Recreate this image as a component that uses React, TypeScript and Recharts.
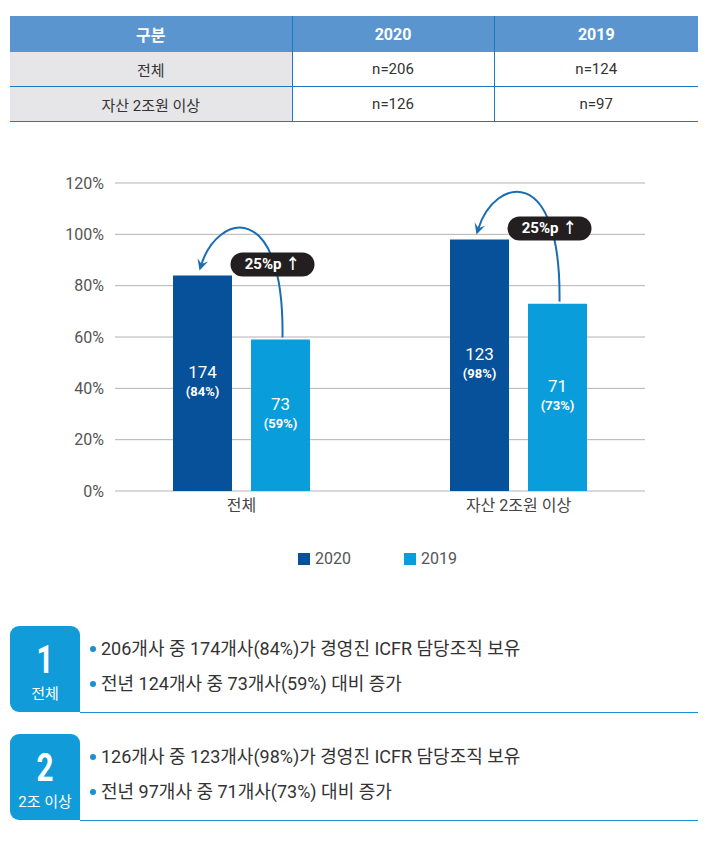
import React from 'react'
import { BarChart, Bar, XAxis, YAxis, CartesianGrid, Legend, LabelList } from 'recharts'

// chart values
const categories = ['전체', '자산 2조원 이상']
const pct2020 = [84, 98]
const pct2019 = [59, 73]
const count2020 = [174, 123]
const count2019 = [73, 71]
const changeLabels = ['25%p ↑', '25%p ↑']
const yTicks = [0, 20, 40, 60, 80, 100, 120]
const seriesNames = ['2020', '2019']

// table above the chart
const tableHead = ['구분', '2020', '2019']
const tableRows = [
  ['전체', 'n=206', 'n=124'],
  ['자산 2조원 이상', 'n=126', 'n=97'],
]

// notes below the chart
const notes = [
  { num: '1', label: '전체', lines: ['206개사 중 174개사(84%)가 경영진 ICFR 담당조직 보유', '전년 124개사 중 73개사(59%) 대비 증가'] },
  { num: '2', label: '2조 이상', lines: ['126개사 중 123개사(98%)가 경영진 ICFR 담당조직 보유', '전년 97개사 중 71개사(73%) 대비 증가'] },
]

const C2020 = '#07509a'
const C2019 = '#0a9ddc'
const FONT = "Roboto, 'Noto Sans CJK KR', sans-serif"
const BAR_SIZE = 59
const BAR_GAP = 19

const data = categories.map((name, i) => ({ name, y2020: pct2020[i], y2019: pct2019[i] }))

const BarValue = (props: any) => {
  const { x, y, width, height, index, counts, pcts } = props
  const cx = x + width / 2
  const cy = y + height / 2
  return (
    <g>
      <text x={cx} y={cy - 5} textAnchor="middle" fill="#fff" fontSize={17} fontFamily={FONT}>{counts[index]}</text>
      <text x={cx} y={cy + 13} textAnchor="middle" fill="#fff" fontSize={13} fontWeight={700} fontFamily={FONT}>({pcts[index]}%)</text>
    </g>
  )
}

const ChangeArrow = (props: any) => {
  const { x, y, width, height, index } = props
  const base = y + height
  const pxPer = height / pct2019[index]
  const top2020 = base - pct2020[index] * pxPer
  const cx2019 = x + width / 2
  const cx2020 = cx2019 - width - BAR_GAP
  const sx = cx2019 + 2
  const sy = y - 2
  const ex = cx2020 - 3
  const ey = top2020 - 5
  const c1x = sx + 2, c1y = top2020 - 78
  const c2x = ex + 18, c2y = top2020 - 62
  const dx = ex - c2x, dy = ey - c2y
  const len = Math.sqrt(dx * dx + dy * dy)
  const ux = dx / len, uy = dy / len
  const px = -uy, py = ux
  const L = 11, W = 5.5
  const head = `M${ex},${ey} L${ex - ux * L + px * W},${ey - uy * L + py * W} L${ex - ux * L * 0.6},${ey - uy * L * 0.6} L${ex - ux * L - px * W},${ey - uy * L - py * W} Z`
  const bx = cx2019 - 8
  const by = top2020 - 11
  return (
    <g>
      <path d={`M${sx},${sy} C${c1x},${c1y} ${c2x},${c2y} ${ex - ux * 6},${ey - uy * 6}`} fill="none" stroke="#1b6db3" strokeWidth={2} />
      <path d={head} fill="#1b6db3" />
      <rect x={bx - 42} y={by - 12} width={84} height={24} rx={12} fill="#231f20" />
      <text x={bx} y={by + 5} textAnchor="middle" fill="#fff" fontSize={15} fontWeight={700} fontFamily={FONT}>{changeLabels[index]}</text>
    </g>
  )
}

const LegendContent = () => (
  <div style={{ position: 'relative', height: 40, fontFamily: FONT }}>
    {[C2020, C2019].map((c, i) => (
      <div key={i} style={{ position: 'absolute', left: i === 0 ? 298 : 404, top: 11, display: 'flex', alignItems: 'center' }}>
        <span style={{ width: 12, height: 12, background: c, display: 'inline-block', marginRight: 5 }} />
        <span style={{ fontSize: 16, color: '#555', lineHeight: '16px' }}>{seriesNames[i]}</span>
      </div>
    ))}
  </div>
)

export default function App() {
  const cell: React.CSSProperties = { height: 34, textAlign: 'center', fontSize: 15, color: '#333', padding: 0 }
  return (
    <div style={{ position: 'relative', width: 719, height: 847, fontFamily: FONT, background: '#fff' }}>
      <style>{`body{margin:0}`}</style>

      <table style={{ position: 'absolute', left: 10, top: 16, width: 688, borderCollapse: 'collapse', tableLayout: 'fixed' }}>
        <colgroup>
          <col style={{ width: 282 }} />
          <col style={{ width: 202 }} />
          <col style={{ width: 204 }} />
        </colgroup>
        <thead>
          <tr style={{ background: '#5b95cf' }}>
            {tableHead.map((h, i) => (
              <th key={i} style={{ ...cell, height: 36, color: '#fff', fontSize: 16, fontWeight: 700, borderLeft: i ? '1px solid #1f78c2' : 'none' }}>{h}</th>
            ))}
          </tr>
        </thead>
        <tbody>
          {tableRows.map((r, ri) => (
            <tr key={ri} style={{ borderBottom: '1px solid #1f78c2' }}>
              {r.map((v, i) => (
                <td key={i} style={{ ...cell, background: i === 0 ? '#e6e6e8' : '#fff', borderLeft: i ? '1px solid #1f78c2' : 'none' }}>{v}</td>
              ))}
            </tr>
          ))}
        </tbody>
      </table>

      <div style={{ position: 'absolute', left: 0, top: 170 }}>
        <BarChart width={719} height={410} data={data} margin={{ top: 13, right: 74, left: 0, bottom: 0 }} barSize={BAR_SIZE} barGap={BAR_GAP}>
          <CartesianGrid vertical={false} stroke="#b3b3b3" />
          <XAxis dataKey="name" axisLine={false} tickLine={false} height={49} padding={{ left: -12, right: -12 }}
            tick={{ fill: '#444', fontSize: 16, fontFamily: FONT }} tickMargin={3} />
          <YAxis domain={[0, 120]} ticks={yTicks} width={115} axisLine={false} tickLine={false} tickMargin={5}
            tickFormatter={(v: number) => `${v}%`} tick={{ fill: '#555', fontSize: 16, fontFamily: FONT }} />
          <Legend verticalAlign="bottom" height={40} content={<LegendContent />} />
          <Bar dataKey="y2020" name="2020" fill={C2020} isAnimationActive={false}>
            <LabelList dataKey="y2020" content={(p: any) => <BarValue {...p} counts={count2020} pcts={pct2020} />} />
          </Bar>
          <Bar dataKey="y2019" name="2019" fill={C2019} isAnimationActive={false}>
            <LabelList dataKey="y2019" content={(p: any) => <BarValue {...p} counts={count2019} pcts={pct2019} />} />
            <LabelList dataKey="y2019" content={(p: any) => <ChangeArrow {...p} />} />
          </Bar>
        </BarChart>
      </div>

      {notes.map((n, k) => {
        const top = 626 + k * 108
        return (
          <div key={k} style={{ position: 'absolute', left: 10, top, width: 688, height: 87 }}>
            <div style={{ position: 'absolute', left: 0, top: 0, width: 70, height: 86, background: '#129bd9', borderRadius: '9px 9px 0 9px', color: '#fff', textAlign: 'center' }}>
              <div style={{ fontSize: 38, fontWeight: 700, lineHeight: '38px', marginTop: 15, transform: 'scaleX(0.78)' }}>{n.num}</div>
              <div style={{ fontSize: 15, lineHeight: '18px', marginTop: 6 }}>{n.label}</div>
            </div>
            <div style={{ position: 'absolute', left: 70, right: 0, top: 86, height: 1, background: '#1b8fd2' }} />
            {n.lines.map((t, j) => (
              <div key={j} style={{ position: 'absolute', left: 80, top: 12 + j * 35, fontSize: 18, color: '#333', lineHeight: '22px', whiteSpace: 'nowrap', display: 'flex', alignItems: 'center' }}>
                <span style={{ display: 'inline-block', width: 6, height: 6, borderRadius: 3, background: '#1b8fd2', marginRight: 5 }} />{t}
              </div>
            ))}
          </div>
        )
      })}
    </div>
  )
}
